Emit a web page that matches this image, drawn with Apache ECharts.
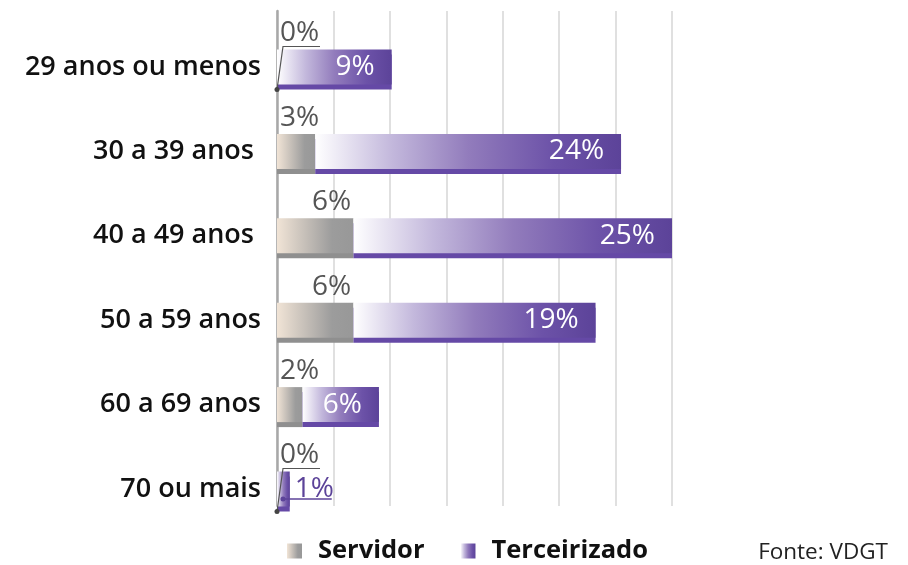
<!DOCTYPE html>
<html>
<head>
<meta charset="utf-8">
<script src="https://cdn.jsdelivr.net/npm/echarts@6/dist/echarts.min.js"></script>
<style>
  html, body { margin: 0; padding: 0; background: #ffffff; }
  #chart { width: 908px; height: 565px; }
</style>
</head>
<body>
<div id="chart"></div>
<script>
// Faixas etárias e percentuais por vínculo
const categories = ['29 anos ou menos', '30 a 39 anos ', '40 a 49 anos ', '50 a 59 anos', '60 a 69 anos', '70 ou mais'];
const servidor = [0, 3, 6, 6, 2, 0];
const terceirizado = [9, 24, 25, 19, 6, 1];
const axisMax = 31;
const gridSteps = 7;

const FONT = '"Open Sans", "Noto Sans", sans-serif';
const PURPLE = '#5c4399';

const servidorColor = {
  type: 'linear', x: 0, y: 0, x2: 1, y2: 0,
  colorStops: [
    { offset: 0, color: '#f1e4d6' },
    { offset: 0.72, color: '#9c9c9c' },
    { offset: 1, color: '#989898' }
  ]
};
const terceirizadoColor = {
  type: 'linear', x: 0, y: 0, x2: 1, y2: 0,
  colorStops: [
    { offset: 0, color: '#ffffff' },
    { offset: 0.25, color: '#c3b8dc' },
    { offset: 0.5, color: '#927cbc' },
    { offset: 0.78, color: '#6c52a8' },
    { offset: 1, color: '#5c4399' }
  ]
};

const BAR = 35;

// Servidor labels sit above the bar, shifted right on the wider segments
const servidorData = servidor.map(v => ({
  value: v,
  label: { position: [v >= 5 ? 35 : 3, -2] }
}));

// Terceirizado labels go inside, or outside in purple when the bar is too narrow
const terceirizadoData = terceirizado.map(v => v >= 3 ? { value: v } : {
  value: v,
  label: { position: 'right', distance: 5, color: PURPLE }
});

const chart = echarts.init(document.getElementById('chart'));
chart.setOption({
  animation: false,
  backgroundColor: '#ffffff',
  grid: [
    { left: 277, right: 236, top: 24.8, height: 506.4, containLabel: false },
    { left: 277, right: 236, top: 11, bottom: 59, containLabel: false }
  ],
  legend: {
    left: 282, top: 533,
    itemWidth: 15, itemHeight: 15, itemGap: 36,
    icon: 'rect',
    data: ['Servidor', 'Terceirizado'],
    textStyle: { fontFamily: FONT, fontSize: 25.5, fontWeight: 'bold', color: '#111', padding: [0, 0, 0, 11] }
  },
  title: {
    text: 'Fonte: VDGT',
    right: 15, top: 536,
    textStyle: { fontFamily: FONT, fontSize: 22.5, fontWeight: 'normal', color: '#222' }
  },
  xAxis: [
    { type: 'value', gridIndex: 0, min: 0, max: axisMax, show: false },
    {
      type: 'value', gridIndex: 1, min: 0, max: axisMax, interval: axisMax / gridSteps,
      axisLabel: { show: false }, axisLine: { show: false }, axisTick: { show: false },
      splitLine: { show: true, lineStyle: { color: '#d6d6d6', width: 1.5 } }
    }
  ],
  yAxis: [
    {
      type: 'category', gridIndex: 0, data: categories, inverse: true,
      axisLine: { show: false }, axisTick: { show: false },
      axisLabel: { fontFamily: FONT, fontSize: 27, fontWeight: 600, color: '#111', margin: 16 }
    },
    {
      type: 'category', gridIndex: 1, data: [''],
      axisLabel: { show: false }, axisTick: { show: false },
      axisLine: { show: true, lineStyle: { color: '#a8a8a8', width: 2.5 } }
    }
  ],
  series: [
    {
      name: 'Servidor', type: 'bar', stack: 'total', barWidth: BAR,
      xAxisIndex: 0, yAxisIndex: 0, z: 3,
      data: servidorData,
      itemStyle: { color: servidorColor, shadowColor: '#8f8f8f', shadowBlur: 0, shadowOffsetY: 5 },
      label: {
        show: true, formatter: '{c}%', align: 'left', verticalAlign: 'bottom',
        fontFamily: FONT, fontSize: 28, fontWeight: 'normal', color: '#555555'
      }
    },
    {
      name: 'Terceirizado', type: 'bar', stack: 'total', barWidth: BAR,
      xAxisIndex: 0, yAxisIndex: 0, z: 3,
      data: terceirizadoData,
      itemStyle: { color: terceirizadoColor, shadowColor: '#6549a6', shadowBlur: 0, shadowOffsetY: 5 },
      label: {
        show: true, formatter: '{c}%', position: 'insideRight', distance: 17,
        fontFamily: FONT, fontSize: 28, fontWeight: 'normal', color: '#ffffff'
      }
    },
    {
      // leader lines for the labels moved off their bars
      type: 'custom', xAxisIndex: 0, yAxisIndex: 0, z: 5,
      silent: true,
      data: categories.map((c, i) => [i, servidor[i], terceirizado[i]]),
      renderItem: function (params, api) {
        const idx = api.value(0);
        const s = api.value(1);
        const t = api.value(2);
        const children = [];
        const origin = api.coord([0, idx]);
        const half = BAR / 2;
        if (s === 0) {
          const x0 = origin[0];
          const yb = origin[1] + half + 5;
          const yt = origin[1] - half - 3;
          children.push({
            type: 'polyline',
            shape: { points: [[x0, yb], [x0 + 6, yt], [x0 + 43, yt]] },
            style: { stroke: '#555', lineWidth: 1.2, fill: null }
          });
          children.push({ type: 'circle', shape: { cx: x0, cy: yb, r: 2.5 }, style: { fill: '#444' } });
        }
        if (t < 3) {
          const end = api.coord([s + t, idx]);
          const x1 = origin[0] + 6;
          const y1 = origin[1] + 10;
          children.push({
            type: 'line',
            shape: { x1: x1, y1: y1, x2: end[0] + 42, y2: y1 },
            style: { stroke: PURPLE, lineWidth: 1.5 }
          });
          children.push({ type: 'circle', shape: { cx: x1, cy: y1, r: 2.5 }, style: { fill: PURPLE } });
        }
        return { type: 'group', children: children };
      }
    }
  ]
});
</script>
</body>
</html>
